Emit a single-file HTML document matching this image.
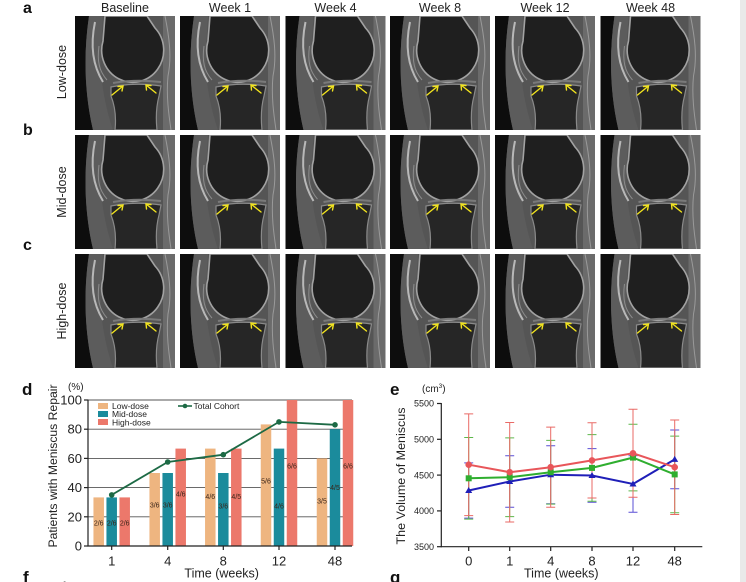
<!DOCTYPE html>
<html><head><meta charset="utf-8"><style>
html,body{margin:0;padding:0;background:#fff;width:746px;height:582px;overflow:hidden}
svg{display:block;font-family:"Liberation Sans",Arial,sans-serif}
</style></head><body>
<svg width="746" height="582" viewBox="0 0 746 582" xmlns="http://www.w3.org/2000/svg">
<defs>
<symbol id="knee" viewBox="0 0 100 114">
<rect width="100" height="114" fill="#555"/>
<path d="M0,0 H14 C8,40 10,80 18,114 H0Z" fill="#0d0d0d"/>
<path d="M14,0 C8,40 10,80 18,114 H38 C30,90 24,60 26,30 L28,0Z" fill="#5c5c5c"/>
<path d="M20,6 C15,30 18,50 28,66" stroke="#b8b8b8" stroke-width="2" fill="none"/>
<path d="M24,30 C22,45 24,55 32,64" stroke="#8c8c8c" stroke-width="1" fill="none"/>
<rect x="88" y="0" width="12" height="114" fill="#6b6b6b"/>
<path d="M90,0 C94,20 97,40 93,60 C91,80 94,100 96,114" stroke="#9a9a9a" stroke-width="1" fill="none"/>
<path d="M30,0 L28,25 A31,32 0 1 0 80,12 L72,0Z" fill="#1f1f1f" stroke="#a2a2a2" stroke-width="1.6"/>
<path d="M38,67 Q60,63 86,66" stroke="#7a7a7a" stroke-width="2" fill="none"/>
<path d="M36,71 Q60,66 86,70 L84,80 Q80,95 82,114 H40 Q42,95 36,80Z" fill="#262626" stroke="#8a8a8a" stroke-width="1.2"/>
<g stroke="#f2e41e" stroke-width="1.4" fill="none" stroke-linecap="round">
<line x1="37" y1="79" x2="48" y2="70"/><polyline points="43,70.5 48,70 47,75"/>
<line x1="81" y1="77" x2="71" y2="69"/><polyline points="71.5,74 71,69 76,69.5"/>
</g>
</symbol>
</defs>

<rect x="740" y="0" width="6" height="582" fill="#e9e9e9"/>

<!-- panel letters -->
<g font-weight="bold" fill="#111">
<text x="23" y="13" font-size="16">a</text>
<text x="23" y="135" font-size="16">b</text>
<text x="23" y="250" font-size="16">c</text>
<text x="22" y="395" font-size="17">d</text>
<text x="390" y="395" font-size="17">e</text>
<text x="23" y="583" font-size="17">f</text>
<text x="390" y="583" font-size="17">g</text>
</g>
<text x="62" y="588" font-size="9" fill="#222">6</text>

<!-- column headers -->
<g font-size="12.5" fill="#222" text-anchor="middle">
<text x="125" y="12">Baseline</text>
<text x="230" y="12">Week 1</text>
<text x="335.5" y="12">Week 4</text>
<text x="440" y="12">Week 8</text>
<text x="545" y="12">Week 12</text>
<text x="650.5" y="12">Week 48</text>
</g>
<!-- row labels -->
<g font-size="12.5" fill="#222" text-anchor="middle">
<text transform="translate(66,72) rotate(-90)">Low-dose</text>
<text transform="translate(66,192) rotate(-90)">Mid-dose</text>
<text transform="translate(66,311) rotate(-90)">High-dose</text>
</g>

<!-- MRI panels -->
<g>
<use href="#knee" x="75" y="16" width="100" height="114"/>
<use href="#knee" x="180" y="16" width="100" height="114"/>
<use href="#knee" x="285.5" y="16" width="100" height="114"/>
<use href="#knee" x="390" y="16" width="100" height="114"/>
<use href="#knee" x="495" y="16" width="100" height="114"/>
<use href="#knee" x="600.5" y="16" width="100" height="114"/>
<use href="#knee" x="75" y="135" width="100" height="114"/>
<use href="#knee" x="180" y="135" width="100" height="114"/>
<use href="#knee" x="285.5" y="135" width="100" height="114"/>
<use href="#knee" x="390" y="135" width="100" height="114"/>
<use href="#knee" x="495" y="135" width="100" height="114"/>
<use href="#knee" x="600.5" y="135" width="100" height="114"/>
<use href="#knee" x="75" y="254" width="100" height="114"/>
<use href="#knee" x="180" y="254" width="100" height="114"/>
<use href="#knee" x="285.5" y="254" width="100" height="114"/>
<use href="#knee" x="390" y="254" width="100" height="114"/>
<use href="#knee" x="495" y="254" width="100" height="114"/>
<use href="#knee" x="600.5" y="254" width="100" height="114"/>
</g>

<!-- ===== Chart d ===== -->
<g stroke="#555" stroke-width="0.9">
<line x1="88" y1="400" x2="352" y2="400"/>
<line x1="88" y1="429.2" x2="352" y2="429.2"/>
<line x1="88" y1="458.4" x2="352" y2="458.4"/>
<line x1="88" y1="487.6" x2="352" y2="487.6"/>
<line x1="88" y1="516.8" x2="352" y2="516.8"/>
</g>
<!-- bars -->
<g>
<rect x="93.45" y="497.4" width="10.5" height="48.6" fill="#eeb580"/>
<rect x="106.45" y="497.4" width="10.5" height="48.6" fill="#1b8b9c"/>
<rect x="119.45" y="497.4" width="10.5" height="48.6" fill="#ec786b"/>
<rect x="149.45" y="473" width="10.5" height="73" fill="#eeb580"/>
<rect x="162.45" y="473" width="10.5" height="73" fill="#1b8b9c"/>
<rect x="175.45" y="448.6" width="10.5" height="97.4" fill="#ec786b"/>
<rect x="205.05" y="448.6" width="10.5" height="97.4" fill="#eeb580"/>
<rect x="218.05" y="473" width="10.5" height="73" fill="#1b8b9c"/>
<rect x="231.05" y="448.6" width="10.5" height="97.4" fill="#ec786b"/>
<rect x="260.75" y="424.4" width="10.5" height="121.6" fill="#eeb580"/>
<rect x="273.75" y="448.6" width="10.5" height="97.4" fill="#1b8b9c"/>
<rect x="286.75" y="400" width="10.5" height="146" fill="#ec786b"/>
<rect x="316.75" y="458.4" width="10.5" height="87.6" fill="#eeb580"/>
<rect x="329.75" y="429.2" width="10.5" height="116.8" fill="#1b8b9c"/>
<rect x="342.75" y="400" width="10.5" height="146" fill="#ec786b"/>
</g>
<!-- bar labels -->
<g font-size="7" fill="#3a2418" text-anchor="middle">
<text x="98.7" y="525.5">2/6</text><text x="111.7" y="525.5">2/6</text><text x="124.7" y="525.5">2/6</text>
<text x="154.7" y="507.5">3/6</text><text x="167.7" y="507.5">3/6</text><text x="180.7" y="496.5">4/6</text>
<text x="210.3" y="499.2">4/6</text><text x="223.3" y="508.5">3/6</text><text x="236.3" y="499.2">4/5</text>
<text x="266" y="483.5">5/6</text><text x="279" y="508.5">4/6</text><text x="292" y="468.5">6/6</text>
<text x="322" y="503.5">3/5</text><text x="335" y="490.2">4/5</text><text x="348" y="468.5">6/6</text>
</g>
<!-- axes -->
<g stroke="#222" stroke-width="1.2">
<line x1="88" y1="399.5" x2="88" y2="546.5"/>
<line x1="87.5" y1="546" x2="352" y2="546"/>
<line x1="84" y1="400" x2="88" y2="400"/>
<line x1="84" y1="429.2" x2="88" y2="429.2"/>
<line x1="84" y1="458.4" x2="88" y2="458.4"/>
<line x1="84" y1="487.6" x2="88" y2="487.6"/>
<line x1="84" y1="516.8" x2="88" y2="516.8"/>
<line x1="84" y1="546" x2="88" y2="546"/>
<line x1="111.7" y1="546" x2="111.7" y2="550"/>
<line x1="167.7" y1="546" x2="167.7" y2="550"/>
<line x1="223.3" y1="546" x2="223.3" y2="550"/>
<line x1="279" y1="546" x2="279" y2="550"/>
<line x1="335" y1="546" x2="335" y2="550"/>
</g>
<g font-size="13" fill="#222" text-anchor="end">
<text x="82" y="404.5">100</text>
<text x="82" y="433.7">80</text>
<text x="82" y="462.9">60</text>
<text x="82" y="492.1">40</text>
<text x="82" y="521.3">20</text>
<text x="82" y="550.5">0</text>
</g>
<g font-size="13" fill="#222" text-anchor="middle">
<text x="111.7" y="565.5">1</text>
<text x="167.7" y="565.5">4</text>
<text x="223.3" y="565.5">8</text>
<text x="279" y="565.5">12</text>
<text x="335" y="565.5">48</text>
<text x="221.7" y="577.5" font-size="12.5">Time (weeks)</text>
</g>
<text x="68" y="390" font-size="10" fill="#222">(%)</text>
<text transform="translate(57,466) rotate(-90)" font-size="11.5" fill="#222" text-anchor="middle" textLength="163" lengthAdjust="spacingAndGlyphs">Patients with Meniscus Repair</text>
<!-- total cohort line -->
<polyline points="111.7,494.9 167.7,462 223.3,454.7 279,421.9 335,424.8" fill="none" stroke="#1d6a45" stroke-width="1.8"/>
<g fill="#1d6a45">
<circle cx="111.7" cy="494.9" r="2.8"/><circle cx="167.7" cy="462" r="2.8"/><circle cx="223.3" cy="454.7" r="2.8"/><circle cx="279" cy="421.9" r="2.8"/><circle cx="335" cy="424.8" r="2.8"/>
</g>
<!-- legend -->
<rect x="98" y="403" width="10" height="6" fill="#eeb580"/>
<rect x="98" y="411" width="10" height="6" fill="#1b8b9c"/>
<rect x="98" y="419" width="10" height="6" fill="#ec786b"/>
<g font-size="8.5" fill="#222">
<text x="112" y="409">Low-dose</text>
<text x="112" y="417">Mid-dose</text>
<text x="112" y="425.5">High-dose</text>
<text x="193.5" y="409">Total Cohort</text>
</g>
<line x1="178" y1="406" x2="192" y2="406" stroke="#1d6a45" stroke-width="1.6"/>
<circle cx="185" cy="406" r="2.3" fill="#1d6a45"/>

<!-- ===== Chart e ===== -->
<g stroke="#222" stroke-width="1.2">
<line x1="441.3" y1="403" x2="441.3" y2="547.2"/>
<line x1="440.8" y1="546.7" x2="702.3" y2="546.7"/>
<line x1="437" y1="403.5" x2="441.3" y2="403.5"/>
<line x1="437" y1="439.3" x2="441.3" y2="439.3"/>
<line x1="437" y1="475.1" x2="441.3" y2="475.1"/>
<line x1="437" y1="510.9" x2="441.3" y2="510.9"/>
<line x1="437" y1="546.7" x2="441.3" y2="546.7"/>
<line x1="468.7" y1="546.7" x2="468.7" y2="551"/>
<line x1="509.7" y1="546.7" x2="509.7" y2="551"/>
<line x1="550.7" y1="546.7" x2="550.7" y2="551"/>
<line x1="592" y1="546.7" x2="592" y2="551"/>
<line x1="633" y1="546.7" x2="633" y2="551"/>
<line x1="674.7" y1="546.7" x2="674.7" y2="551"/>
</g>
<g font-size="9" fill="#222" text-anchor="end">
<text x="434" y="406.7">5500</text>
<text x="434" y="442.5">5000</text>
<text x="434" y="478.3">4500</text>
<text x="434" y="514.1">4000</text>
<text x="434" y="549.9">3500</text>
</g>
<g font-size="13" fill="#222" text-anchor="middle">
<text x="468.7" y="565.5">0</text>
<text x="509.7" y="565.5">1</text>
<text x="550.7" y="565.5">4</text>
<text x="592" y="565.5">8</text>
<text x="633" y="565.5">12</text>
<text x="674.7" y="565.5">48</text>
<text x="561.3" y="577.5" font-size="12.5">Time (weeks)</text>
</g>
<text x="422" y="392" font-size="10" fill="#222">(cm<tspan font-size="6.5" dy="-4">3</tspan><tspan dy="4">)</tspan></text>
<text transform="translate(405,476) rotate(-90)" font-size="11.5" fill="#222" text-anchor="middle" textLength="137" lengthAdjust="spacingAndGlyphs">The Volume of Meniscus</text>

<!-- error bars blue -->
<g stroke="#5a4fd6" stroke-width="1" fill="none">
<path d="M468.7,462.9V518.1M464.2,462.9H473.2M464.2,518.1H473.2"/>
<path d="M509.7,455.8V507.3M505.2,455.8H514.2M505.2,507.3H514.2"/>
<path d="M550.7,445.7V503.7M546.2,445.7H555.2M546.2,503.7H555.2"/>
<path d="M592,448.6V502.3M587.5,448.6H596.5M587.5,502.3H596.5"/>
<path d="M633,455.8V512.3M628.5,455.8H637.5M628.5,512.3H637.5"/>
<path d="M674.7,430V488.7M670.2,430H679.2M670.2,488.7H679.2"/>
</g>
<!-- error bars green -->
<g stroke="#5cb84a" stroke-width="1" fill="none">
<path d="M468.7,437.5V519.1M464.2,437.5H473.2M464.2,519.1H473.2"/>
<path d="M509.7,437.9V516.6M505.2,437.9H514.2M505.2,516.6H514.2"/>
<path d="M550.7,440.4V504.1M546.2,440.4H555.2M546.2,504.1H555.2"/>
<path d="M592,434.6V501.2M587.5,434.6H596.5M587.5,501.2H596.5"/>
<path d="M633,424.3V490.9M628.5,424.3H637.5M628.5,490.9H637.5"/>
<path d="M674.7,436.1V512.7M670.2,436.1H679.2M670.2,512.7H679.2"/>
</g>
<!-- error bars red -->
<g stroke="#e96a66" stroke-width="1" fill="none">
<path d="M468.7,413.9V515.6M464.2,413.9H473.2M464.2,515.6H473.2"/>
<path d="M509.7,422.5V522M505.2,422.5H514.2M505.2,522H514.2"/>
<path d="M550.7,427.1V507.3M546.2,427.1H555.2M546.2,507.3H555.2"/>
<path d="M592,422.8V498M587.5,422.8H596.5M587.5,498H596.5"/>
<path d="M633,409.2V497.3M628.5,409.2H637.5M628.5,497.3H637.5"/>
<path d="M674.7,420V514.5M670.2,420H679.2M670.2,514.5H679.2"/>
</g>
<!-- lines -->
<polyline points="468.7,490.5 509.7,481.5 550.7,474.7 592,475.5 633,484 674.7,459.4" fill="none" stroke="#1f1fb8" stroke-width="2"/>
<g fill="#1f1fb8">
<path d="M468.7,487 L472.2,493 L465.2,493Z"/><path d="M509.7,478 L513.2,484 L506.2,484Z"/><path d="M550.7,471.2 L554.2,477.2 L547.2,477.2Z"/><path d="M592,472 L595.5,478 L588.5,478Z"/><path d="M633,480.5 L636.5,486.5 L629.5,486.5Z"/><path d="M674.7,455.9 L678.2,461.9 L671.2,461.9Z"/>
</g>
<polyline points="468.7,478.3 509.7,477.2 550.7,472.2 592,467.9 633,457.6 674.7,474.4" fill="none" stroke="#2fae2f" stroke-width="2"/>
<g fill="#2fae2f">
<rect x="465.7" y="475.3" width="6" height="6"/><rect x="506.7" y="474.2" width="6" height="6"/><rect x="547.7" y="469.2" width="6" height="6"/><rect x="589" y="464.9" width="6" height="6"/><rect x="630" y="454.6" width="6" height="6"/><rect x="671.7" y="471.4" width="6" height="6"/>
</g>
<polyline points="468.7,464.7 509.7,472.2 550.7,467.2 592,460.4 633,453.3 674.7,467.2" fill="none" stroke="#e8565a" stroke-width="2"/>
<g fill="#e8565a">
<circle cx="468.7" cy="464.7" r="3.3"/><circle cx="509.7" cy="472.2" r="3.3"/><circle cx="550.7" cy="467.2" r="3.3"/><circle cx="592" cy="460.4" r="3.3"/><circle cx="633" cy="453.3" r="3.3"/><circle cx="674.7" cy="467.2" r="3.3"/>
</g>
</svg>
</body></html>
